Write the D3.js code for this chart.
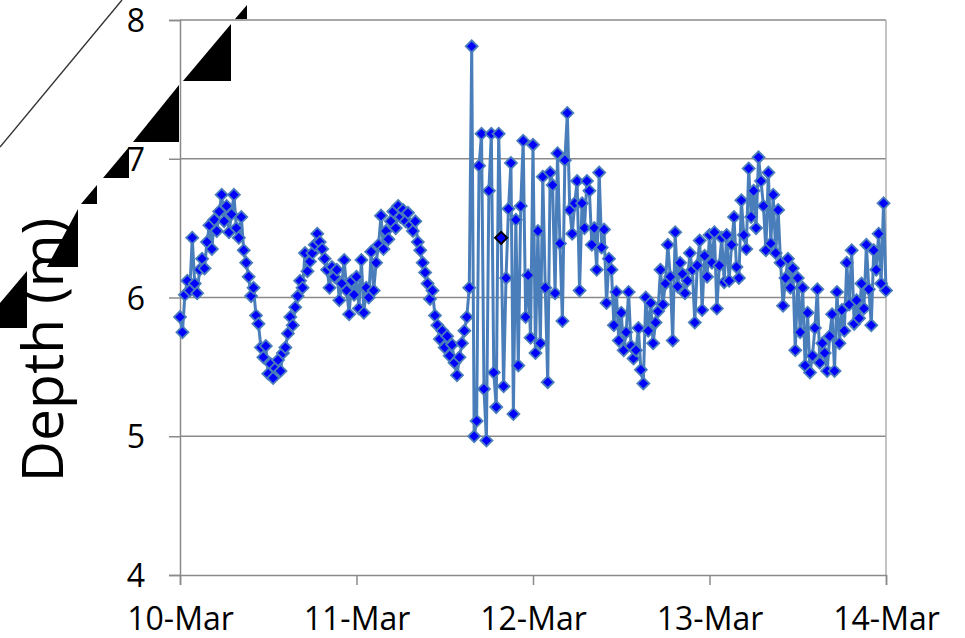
<!DOCTYPE html>
<html>
<head>
<meta charset="utf-8">
<script src="https://cdnjs.cloudflare.com/ajax/libs/d3/7.8.5/d3.min.js"></script>
<style>
  body { margin: 0; background: #fff; }
  text { font-family: 'Open Sans', sans-serif; fill: #000; }
</style>
</head>
<body>
<div id="chart"></div>
<script>
// depth readings, one every 20 minutes, one array per day
const depth10 = [5.86, 5.75, 6.02, 6.12, 6.05, 6.43, 6.10, 6.03, 6.20, 6.28,
  6.21, 6.40, 6.52, 6.35, 6.56, 6.48, 6.62, 6.74, 6.55, 6.66,
  6.47, 6.60, 6.74, 6.50, 6.43, 6.58, 6.34, 6.25, 6.15, 6.01,
  6.07, 5.87, 5.81, 5.64, 5.57, 5.65, 5.45, 5.52, 5.42, 5.49,
  5.55, 5.47, 5.60, 5.64, 5.74, 5.86, 5.80, 5.93, 6.01, 6.12,
  6.07, 6.32, 6.19, 6.26, 6.32, 6.38, 6.46, 6.40, 6.35, 6.28,
  6.20, 6.07, 6.22, 6.15, 6.20, 5.98, 6.10, 6.27, 6.05, 5.88,
  6.12, 6.02];
const depth11 = [6.15, 5.92, 6.27, 5.89, 6.07, 6.00, 6.33, 6.05, 6.25, 6.38,
  6.59, 6.35, 6.48, 6.42, 6.55, 6.62, 6.50, 6.66, 6.58, 6.63,
  6.55, 6.61, 6.52, 6.48, 6.55, 6.40, 6.34, 6.25, 6.18, 6.10,
  5.99, 6.05, 5.87, 5.80, 5.70, 5.76, 5.64, 5.72, 5.58, 5.66,
  5.53, 5.44, 5.57, 5.67, 5.76, 5.86, 6.07, 7.81, 5.00, 5.11,
  6.95, 7.18, 5.34, 4.97, 6.77, 7.18, 5.46, 5.21, 7.18, 6.43,
  5.36, 6.14, 6.64, 6.97, 5.16, 6.56, 5.51, 6.66, 7.13, 5.86,
  6.16, 5.71];
const depth12 = [7.10, 5.60, 6.48, 5.67, 6.87, 6.07, 5.39, 6.90, 6.81, 6.03,
  7.04, 6.39, 5.83, 6.99, 7.33, 6.63, 6.46, 6.68, 6.84, 6.05,
  6.68, 6.50, 6.84, 6.77, 6.38, 6.50, 6.20, 6.90, 6.36, 6.49,
  5.96, 6.28, 6.20, 5.80, 6.04, 5.69, 5.89, 5.62, 5.75, 6.04,
  5.65, 5.56, 5.62, 5.78, 5.48, 5.38, 6.00, 5.76, 5.96, 5.67,
  5.82, 5.90, 6.20, 5.95, 6.10, 6.38, 6.15, 5.69, 6.47, 6.08,
  6.25, 6.17, 6.03, 6.12, 6.32, 6.20, 5.82, 6.23, 6.41, 5.91,
  6.30, 6.15];
const depth13 = [6.45, 6.25, 6.47, 5.92, 6.23, 6.43, 6.11, 6.45, 6.12, 6.38,
  6.58, 6.22, 6.14, 6.70, 6.45, 6.35, 6.93, 6.58, 6.77, 6.50,
  7.01, 6.84, 6.66, 6.34, 6.90, 6.39, 6.74, 6.32, 6.63, 6.25,
  5.94, 6.14, 6.28, 6.07, 6.21, 5.62, 6.14, 5.75, 6.07, 5.51,
  5.89, 5.46, 5.58, 5.78, 6.06, 5.53, 5.67, 5.60, 5.47, 5.72,
  5.88, 5.47, 6.04, 5.67, 5.91, 5.76, 6.25, 5.95, 6.34, 5.81,
  5.98, 5.85, 6.10, 5.92, 6.38, 6.06, 5.80, 6.34, 6.20, 6.46,
  6.10, 6.68];
const depth14 = [6.05];

const startDate = new Date(2010, 2, 10);
const endDate = new Date(2010, 2, 14);
const stepMinutes = 20;
const highlightTime = new Date(2010, 2, 11, 19, 40);
const yTicks = [4, 5, 6, 7, 8];

const width = 965;
const height = 638;
const margin = { left: 180, right: 886, top: 20, bottom: 575 };
const gridColor = '#8a8a8a';

const values = [].concat(depth10, depth11, depth12, depth13, depth14);
const data = values.map((v, i) => ({
  date: d3.timeMinute.offset(startDate, i * stepMinutes),
  depth: v
}));

const svg = d3.select('#chart')
  .append('svg')
  .attr('width', width)
  .attr('height', height);

const x = d3.scaleTime().domain([startDate, endDate]).range([margin.left, margin.right]);
const y = d3.scaleLinear().domain([4, 8]).range([margin.bottom, margin.top]);

// horizontal gridlines
svg.append('g')
  .selectAll('line')
  .data(yTicks.filter(d => d > 4))
  .enter().append('line')
  .attr('x1', margin.left)
  .attr('x2', margin.right)
  .attr('y1', d => y(d))
  .attr('y2', d => y(d))
  .attr('stroke', gridColor)
  .attr('stroke-width', 1.5);

// right border
svg.append('line')
  .attr('x1', margin.right).attr('x2', margin.right)
  .attr('y1', margin.top).attr('y2', margin.bottom)
  .attr('stroke', '#b0b0b0')
  .attr('stroke-width', 1.5);

// y axis
const yAxis = svg.append('g')
  .attr('transform', `translate(${margin.left},0)`)
  .call(d3.axisLeft(y).tickValues(yTicks).tickSize(11).tickPadding(24).tickFormat(d3.format('d')));

// x axis
const xAxis = svg.append('g')
  .attr('transform', `translate(0,${margin.bottom})`)
  .call(d3.axisBottom(x).ticks(d3.timeDay.every(1)).tickSize(10).tickPadding(22)
    .tickFormat(d3.timeFormat('%-d-%b')));

[yAxis, xAxis].forEach(ax => {
  ax.select('.domain').attr('stroke', gridColor).attr('stroke-width', 1.5);
  ax.selectAll('.tick line').attr('stroke', gridColor).attr('stroke-width', 1.5);
  ax.selectAll('.tick text')
    .attr('font-family', "'Open Sans', sans-serif")
    .attr('font-size', 32)
    .attr('fill', '#000');
});
yAxis.selectAll('.tick text').attr('dy', '0.36em');

// series
const line = d3.line()
  .x(d => x(d.date))
  .y(d => y(d.depth));

svg.append('path')
  .datum(data)
  .attr('fill', 'none')
  .attr('stroke', '#4a7ebb')
  .attr('stroke-width', 3)
  .attr('stroke-linejoin', 'round')
  .attr('d', line);

const diamond = d3.symbol().type(d3.symbolSquare).size(72);

svg.append('g')
  .selectAll('path')
  .data(data)
  .enter().append('path')
  .attr('d', diamond)
  .attr('transform', d => `translate(${x(d.date)},${y(d.depth)}) rotate(45)`)
  .attr('fill', '#0000ff')
  .attr('stroke', d => (+d.date === +highlightTime ? '#000' : '#4a7ebb'))
  .attr('stroke-width', d => (+d.date === +highlightTime ? 2 : 1.8));

// y axis title
svg.append('text')
  .attr('transform', 'translate(63,350) rotate(-90)')
  .attr('text-anchor', 'middle')
  .attr('font-size', 57)
  .text('Depth (m)');

// stray black wedges over the top-left corner
const wedges = [
  [[235, 19], [247, 19], [247, 5]],
  [[183, 81], [231, 81], [231, 24]],
  [[133, 142], [179, 142], [179, 85]],
  [[103, 178], [129, 178], [129, 147]],
  [[81, 204], [97, 204], [97, 185]],
  [[47, 267], [78, 267], [78, 209]],
  [[0, 303], [0, 328], [27, 328], [27, 271]]
];
svg.append('g')
  .selectAll('polygon')
  .data(wedges)
  .enter().append('polygon')
  .attr('points', d => d.map(p => p.join(',')).join(' '))
  .attr('fill', '#000');

svg.append('line')
  .attr('x1', 0).attr('y1', 147)
  .attr('x2', 122).attr('y2', 0)
  .attr('stroke', '#333')
  .attr('stroke-width', 1.4);
</script>
</body>
</html>
